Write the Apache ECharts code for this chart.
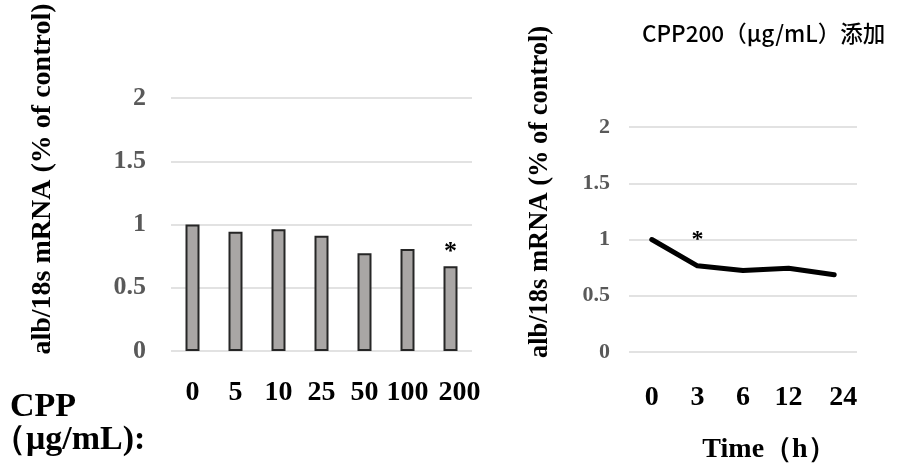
<!DOCTYPE html>
<html>
<head>
<meta charset="utf-8">
<script src="https://cdn.jsdelivr.net/npm/echarts@6/dist/echarts.min.js"></script>
<style>
html,body{margin:0;padding:0;background:#fff;}
#main{width:899px;height:471px;}
</style>
</head>
<body>
<div id="main"></div>
<script>
// ---- data ----
const doseCategories = ['0', '5', '10', '25', '50', '100', '200'];
const doseValues = [1.0, 0.943, 0.962, 0.911, 0.772, 0.806, 0.67];
const doseSignificant = ['200'];

const timeCategories = ['0', '3', '6', '12', '24'];
const timeValues = [1.0, 0.766, 0.724, 0.745, 0.686];
const timeSignificant = ['3'];
const timeStarValue = 1.0;

const yMin = 0, yMax = 2, yStep = 0.5;

const yTitle = 'alb/18s mRNA (% of control)';
const doseLabelLine1 = 'CPP';
const doseLabelLine2 = '（μg/mL):';
const timeTitle = 'Time（h）';
const rightTitle = 'CPP200（μg/mL）添加';

// ---- chart ----
const serif = "'Liberation Serif', 'Times New Roman', serif";
const chart = echarts.init(document.getElementById('main'), null, {renderer: 'canvas'});

function yAxisCfg(gridIndex, fontSize, margin) {
  return {
    type: 'value', gridIndex: gridIndex, min: yMin, max: yMax, interval: yStep,
    axisLine: {show: false}, axisTick: {show: false},
    splitLine: {show: true, lineStyle: {color: '#d9d9d9', width: 1.5}},
    axisLabel: {color: '#595959', fontFamily: serif, fontWeight: 'bold', fontSize: fontSize, margin: margin}
  };
}
function xAxisCfg(gridIndex, cats, margin) {
  const last = cats.length - 1;
  return {
    type: 'category', gridIndex: gridIndex, data: cats, boundaryGap: true,
    axisLine: {show: false}, axisTick: {show: false}, splitLine: {show: false},
    axisLabel: {
      color: '#000', fontFamily: serif, fontWeight: 'bold', fontSize: 28, margin: margin, interval: 0,
      formatter: (v, idx) => idx === last ? '{p|' + v + '}' : v,
      rich: {p: {color: '#000', fontFamily: serif, fontWeight: 'bold', fontSize: 28, padding: [0, 0, 0, 18]}}
    }
  };
}

const barData = doseValues.map((v, i) => {
  const sig = doseSignificant.indexOf(doseCategories[i]) >= 0;
  return {
    value: v,
    label: {show: sig, position: 'top', distance: 1, formatter: '*',
      color: '#000', fontFamily: serif, fontWeight: 'bold', fontSize: 26}
  };
});

const option = {
  backgroundColor: '#fff',
  animation: false,
  grid: [
    {left: 171, top: 98, width: 301, height: 253, containLabel: false},
    {left: 629, top: 127, width: 228, height: 225, containLabel: false}
  ],
  xAxis: [xAxisCfg(0, doseCategories, 28), xAxisCfg(1, timeCategories, 32)],
  yAxis: [yAxisCfg(0, 26, 25), yAxisCfg(1, 22, 19)],
  series: [
    {
      type: 'bar', xAxisIndex: 0, yAxisIndex: 0, data: barData, barWidth: 14,
      itemStyle: {color: '#a9a6a5', borderColor: '#262626', borderWidth: 2}
    },
    {
      type: 'line', xAxisIndex: 1, yAxisIndex: 1, data: timeValues,
      showSymbol: false, symbol: 'none',
      lineStyle: {color: '#000', width: 5, cap: 'round', join: 'round'},
      markPoint: {
        symbol: 'rect', symbolSize: 1,
        itemStyle: {color: 'rgba(0,0,0,0)'},
        label: {show: true, position: 'inside', formatter: '*', color: '#000',
          fontFamily: serif, fontWeight: 'bold', fontSize: 24},
        data: timeSignificant.map(c => ({coord: [c, timeStarValue]}))
      }
    }
  ],
  graphic: [
    {type: 'text', x: 43, y: 179, rotation: Math.PI / 2,
      style: {text: yTitle, fill: '#000', font: 'bold 28px ' + serif, align: 'center', verticalAlign: 'middle'}},
    {type: 'text', x: 540, y: 192, rotation: Math.PI / 2,
      style: {text: yTitle, fill: '#000', font: 'bold 26.5px ' + serif, align: 'center', verticalAlign: 'middle'}},
    {type: 'text', x: 10, y: 407,
      style: {text: doseLabelLine1, fill: '#000', font: 'bold 34px ' + serif, align: 'left', verticalAlign: 'middle'}},
    {type: 'text', x: -8, y: 440,
      style: {text: doseLabelLine2, fill: '#000', font: 'bold 34px ' + serif, align: 'left', verticalAlign: 'middle'}},
    {type: 'text', x: 769, y: 450,
      style: {text: timeTitle, fill: '#000', font: 'bold 28px ' + serif, align: 'center', verticalAlign: 'middle'}},
    {type: 'text', x: 642, y: 33,
      style: {text: rightTitle, fill: '#000', font: "500 22.5px 'Noto Sans CJK JP', 'Noto Sans', sans-serif", align: 'left', verticalAlign: 'middle'}}
  ]
};
chart.setOption(option);
</script>
</body>
</html>
